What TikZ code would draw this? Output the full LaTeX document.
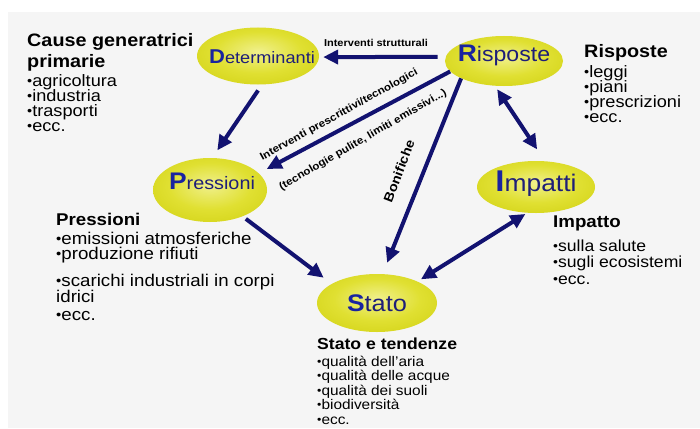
\documentclass[tikz,border=0pt]{standalone}
\usepackage{fontspec}
\setmainfont{Liberation Sans}[FakeStretch=1.1]
\usetikzlibrary{arrows.meta,shapes.geometric}
\definecolor{navy}{RGB}{18,18,112}
\definecolor{tnavy}{RGB}{30,30,120}
\definecolor{fblue}{RGB}{25,35,160}
\definecolor{bgg}{RGB}{245,245,245}
\definecolor{eLight}{RGB}{240,240,140}
\definecolor{eMid}{RGB}{224,224,50}
\definecolor{eDark}{RGB}{204,204,8}
\definecolor{eRim}{RGB}{186,186,0}
\pgfdeclareradialshading{ellshade}{\pgfpoint{0bp}{4bp}}{color(0bp)=(eLight); color(18bp)=(eMid); color(42bp)=(eDark); color(50bp)=(eRim); color(80bp)=(eRim)}
\newcommand{\fs}[1]{\fontsize{#1}{#1}\selectfont}
\newcommand{\bul}{\raisebox{0.05em}{\scalebox{0.8}{•}}}
\begin{document}
\begin{tikzpicture}[x=1pt,y=-1pt,
  ell/.style={ellipse,inner sep=0pt,shading=ellshade},
  etxt/.style={inner sep=0pt,text=tnavy},
  arr/.style={line width=4pt,draw=navy,-{Triangle[length=15pt,width=14pt]}},
  dbl/.style={line width=4pt,draw=navy,{Triangle[length=15pt,width=14pt]}-{Triangle[length=15pt,width=14pt]}},
  txt/.style={anchor=base west,inner sep=0pt,text=black},
  lbl/.style={inner sep=0pt,text=black,font=\bfseries}]
\useasboundingbox (0,0) rectangle (700,428);
\fill[white] (0,0) rectangle (700,428);
\fill[bgg] (8,12) rectangle (700,428);

% ellipses
\node[ell,minimum width=122pt,minimum height=57pt] (D) at (258,56) {};
\node[ell,minimum width=118pt,minimum height=50pt] (R) at (504,61) {};
\node[ell,minimum width=114pt,minimum height=64pt] (P) at (210,190) {};
\node[ell,minimum width=118pt,minimum height=52pt] (I) at (536,187) {};
\node[ell,minimum width=120pt,minimum height=58pt] (S) at (377,303) {};

\node[etxt] (Dt) at (262,57) {{\fs{20}\bfseries\color{fblue}D}\fs{16.5}eterminanti};
\node[etxt] (Rt) at (504,55) {{\fs{24}\bfseries\color{fblue}R}\fs{21}isposte};
\node[etxt] (Pt) at (212,181) {{\fs{24}\bfseries\color{fblue}P}\fs{18}ressioni};
\node[etxt] (It) at (536,184) {{\fs{30}\bfseries\color{fblue}I}\fs{24}mpatti};
\node[etxt] (St) at (377,303) {{\fs{24}\bfseries\color{fblue}S}\fs{23}tato};

% connectors
\draw[arr,shorten <=8pt,shorten >=4pt] (R.176) -- (D.359);
\draw[arr,shorten <=7pt,shorten >=9pt] (D.278) -- (P.86);
\draw[arr,shorten >=9pt] (R.191) -- (P.19);
\draw[arr,shorten >=12pt] (R.202) -- (S.79);
\draw[arr,shorten <=4pt,shorten >=10pt] (P.321) -- (S.157);
\draw[dbl,shorten <=4pt,shorten >=2pt] (S.28) -- (I.251);
\draw[dbl,shorten <=4pt,shorten >=14pt] (R.250) -- (I.71);

% connector labels
\node[lbl,font=\bfseries\fs{10}] (l1) at (376,43) {Interventi strutturali};
\node[lbl,font=\bfseries\fs{10.5},rotate=29] (l2) at (339,115) {Interventi prescrittivi/tecnologici};
\node[lbl,font=\bfseries\fs{10.5},rotate=30] (l3) at (363,140) {(tecnologie pulite, limiti emissivi...)};
\node[lbl,font=\bfseries\fs{13},rotate=69] (l4) at (399,171) {Bonifiche};

% Cause block
\node[txt,font=\bfseries\fs{18}] (c1) at (27,47) {Cause generatrici};
\node[txt,font=\bfseries\fs{18}] (c2) at (27,67) {primarie};
\node[txt,font=\fs{16.5}] (c3) at (27,86) {\bul agricoltura};
\node[txt,font=\fs{16.5}] (c4) at (27,101) {\bul industria};
\node[txt,font=\fs{16.5}] (c5) at (27,116) {\bul trasporti};
\node[txt,font=\fs{16.5}] (c6) at (27,131) {\bul ecc.};

% Risposte block
\node[txt,font=\bfseries\fs{18}] (r1) at (584,57) {Risposte};
\node[txt,font=\fs{16.5}] (r2) at (584,77) {\bul leggi};
\node[txt,font=\fs{16.5}] (r3) at (584,92) {\bul piani};
\node[txt,font=\fs{16.5}] (r4) at (584,107) {\bul prescrizioni};
\node[txt,font=\fs{16.5}] (r5) at (584,122) {\bul ecc.};

% Pressioni block
\node[txt,font=\bfseries\fs{17}] (p1) at (56,225) {Pressioni};
\node[txt,font=\fs{17}] (p2) at (56,244) {\bul emissioni atmosferiche};
\node[txt,font=\fs{17}] (p3) at (56,259) {\bul produzione rifiuti};
\node[txt,font=\fs{17}] (p4) at (56,286) {\bul scarichi industriali in corpi};
\node[txt,font=\fs{17}] (p5) at (56,302) {idrici};
\node[txt,font=\fs{17}] (p6) at (56,320) {\bul ecc.};

% Impatto block
\node[txt,font=\bfseries\fs{17}] (i1) at (553,227) {Impatto};
\node[txt,font=\fs{16}] (i2) at (553,251.5) {\bul sulla salute};
\node[txt,font=\fs{16}] (i3) at (553,267.5) {\bul sugli ecosistemi};
\node[txt,font=\fs{16}] (i4) at (553,284.5) {\bul ecc.};

% Stato block
\node[txt,font=\bfseries\fs{16}] (s1) at (317,349) {Stato e tendenze};
\node[txt,font=\fs{14}] (s2) at (317,366) {\bul qualità dell'aria};
\node[txt,font=\fs{14}] (s3) at (317,380.5) {\bul qualità delle acque};
\node[txt,font=\fs{14}] (s4) at (317,395) {\bul qualità dei suoli};
\node[txt,font=\fs{14}] (s5) at (317,409.5) {\bul biodiversità};
\node[txt,font=\fs{14}] (s6) at (317,424) {\bul ecc.};
\end{tikzpicture}
\end{document}
